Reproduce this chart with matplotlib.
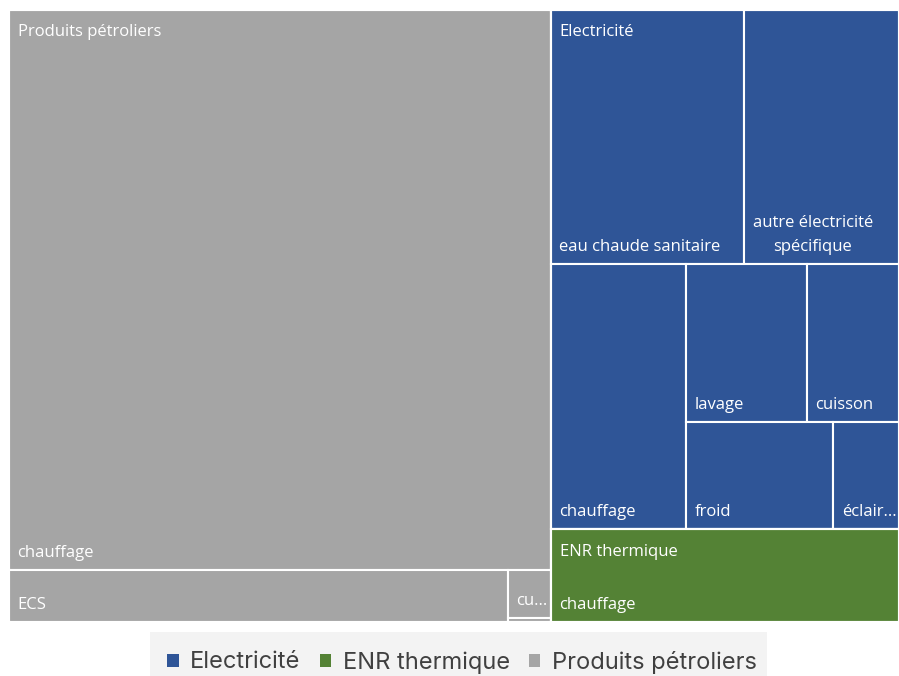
import matplotlib.pyplot as plt
from matplotlib.patches import Rectangle, Patch

# data (treemap, areas)
groups = ["Produits pétroliers", "Electricité", "ENR thermique"]
colors = ["#A5A5A5", "#2F5597", "#548235"]

pp_labels = ["chauffage", "ECS", "cuisson", "autres"]
pp_values = [3035, 259.5, 20.4, 1.7]

elec_labels = ["eau chaude sanitaire", "autre électricité spécifique", "chauffage",
               "lavage", "cuisson", "froid", "éclairage"]
elec_values = [492.5, 394.5, 359, 191, 145.5, 157.5, 70.5]

enr_labels = ["chauffage"]
enr_values = [324]

leaf_labels = [pp_labels, elec_labels, enr_labels]
leaf_values = [pp_values, elec_values, enr_values]

FONT = "Open Sans"
FS = 12
W, H = 890, 612.5


def worst(row, side):
    s = sum(row)
    return max(max(side * side * r / (s * s), s * s / (side * side * r)) for r in row)


def squarify(values, x, y, w, h):
    total = sum(values)
    areas = [v * w * h / total for v in values]
    rects = []
    i = 0
    while i < len(areas):
        side = min(w, h)
        row = [areas[i]]
        j = i + 1
        while j < len(areas) and worst(row + [areas[j]], side) <= worst(row, side):
            row.append(areas[j])
            j += 1
        s = sum(row)
        if w >= h:
            cw = s / h
            cy = y
            for a in row:
                rects.append((x, cy, cw, a / cw))
                cy += a / cw
            x += cw
            w -= cw
        else:
            rh = s / w
            cx = x
            for a in row:
                rects.append((cx, y, a / rh, rh))
                cx += a / rh
            y += rh
            h -= rh
        i = j
    return rects


fig = plt.figure(figsize=(8.99, 6.76), dpi=100)
ax = fig.add_axes([9 / 899, 54 / 676, W / 899, H / 676])
ax.set_xlim(0, W)
ax.set_ylim(H, 0)
ax.axis("off")
renderer = fig.canvas.get_renderer()


def text_width(s):
    t = ax.text(0, 0, s, fontsize=FS, family=FONT)
    wpx = t.get_window_extent(renderer).width
    t.remove()
    return wpx


def fit_lines(s, max_w):
    lines, cur = [], ""
    for word in s.split():
        trial = (cur + " " + word).strip()
        if not cur or text_width(trial) <= max_w:
            cur = trial
        else:
            lines.append(cur)
            cur = word
    lines.append(cur)
    out = []
    for ln in lines:
        k = len(ln)
        while k > 1 and text_width(ln[:k] + ("..." if k < len(ln) else "")) > max_w:
            k -= 1
        out.append(ln if k == len(ln) else ln[:k] + "...")
    return out


group_rects = squarify([sum(v) for v in leaf_values], 0, 0, W, H)

for g, (gx, gy, gw, gh) in enumerate(group_rects):
    for (x, y, w, h), lab in zip(squarify(leaf_values[g], gx, gy, gw, gh), leaf_labels[g]):
        ax.add_patch(Rectangle((x, y), w, h, facecolor=colors[g],
                               edgecolor="white", linewidth=1.5))
        if h < 22:
            continue
        lines = fit_lines(lab, w - 11)
        widths = [text_width(ln) for ln in lines]
        cx = x + 8.5 + max(widths) / 2
        for n, ln in enumerate(lines):
            yy = y + h - 17 - (len(lines) - 1 - n) * 24
            ax.text(cx, yy, ln, color="white", fontsize=FS, family=FONT,
                    ha="center", va="center")
    ax.add_patch(Rectangle((gx, gy), gw, gh, fill=False, edgecolor="white", linewidth=1.5))
    ax.text(gx + 9, gy + 23, groups[g], color="white", fontsize=FS, family=FONT,
            ha="left", va="center")

# legend
fig.patches.append(Rectangle((150 / 899, 0), 617 / 899, 44 / 676,
                             transform=fig.transFigure, facecolor="#f3f3f3",
                             edgecolor="none"))
handles = [Patch(facecolor=c, edgecolor="none") for c in colors[1:] + colors[:1]]
fig.legend(handles, groups[1:] + groups[:1], loc="center", ncol=3,
           bbox_to_anchor=(462 / 899, 1 - 662 / 676), frameon=False,
           prop={"family": "Inter", "size": 17}, handlelength=0.48, handleheight=0.48,
           handletextpad=0.5, columnspacing=0.8, labelcolor="#404040")

fig.savefig("out.png", dpi=100)
